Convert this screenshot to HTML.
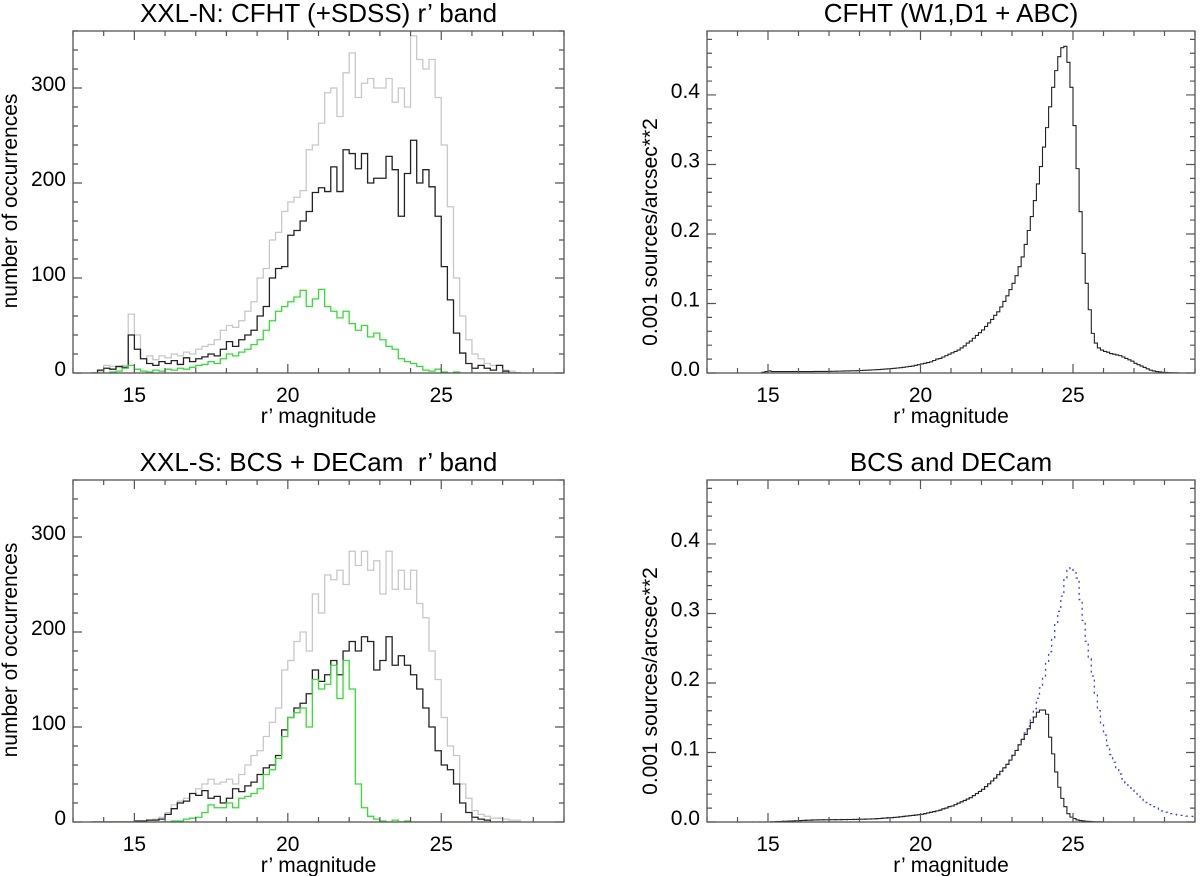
<!DOCTYPE html>
<html><head><meta charset="utf-8">
<style>
html,body{margin:0;padding:0;background:#fff;}
svg{display:block;font-family:"Liberation Sans",Arial,sans-serif;}
text{white-space:pre;}
</style></head>
<body>
<svg id="fig" width="1200" height="876" viewBox="0 0 1200 876" xmlns="http://www.w3.org/2000/svg"></svg>
<script>
// ---- Panel A: XXL-N counts (0.2 mag bins starting at 13.6) ----
const leftBinStart = 13.6;
const leftBinWidth = 0.2;
const xxlnGray = [0,2,8,7,6,8,62,40,15,18,14,18,16,20,18,22,20,25,28,30,35,45,50,48,55,65,75,100,110,140,148,170,180,185,192,235,240,263,295,300,270,316,337,290,305,310,300,300,310,285,300,280,355,330,320,330,290,240,175,100,60,35,20,15,10,8,8,3,2,0];
const xxlnBlack = [0,3,5,4,7,6,40,25,15,10,8,12,10,13,9,16,12,15,17,20,18,25,33,28,35,40,45,60,70,100,110,112,145,150,160,170,190,195,191,217,191,235,231,215,231,200,205,205,228,214,165,210,245,200,214,196,165,112,77,42,21,10,5,8,5,3,8,2,0,0];
const xxlnGreen = [0,0,0,1,2,5,8,4,2,1,3,2,4,3,5,4,6,8,9,12,10,15,20,18,22,25,30,35,45,55,65,70,75,80,87,70,78,88,70,65,58,65,52,45,50,38,42,35,28,25,15,12,10,7,3,2,4,1,0,1,0,0,0,0,0,0,0,0,0,0];
// ---- Panel C: XXL-S counts ----
const xxlsGray = [0,0,0,0,0,0,0,1,1,2,3,5,10,18,22,25,30,35,40,45,40,42,45,40,50,60,70,75,90,105,120,160,170,190,200,180,240,220,260,255,265,250,285,270,285,265,275,240,285,245,265,245,265,230,215,180,150,110,80,70,40,25,12,8,6,4,4,3,2,2];
const xxlsBlack = [0,0,0,0,0,0,0,1,1,2,2,3,8,14,20,22,30,28,33,25,27,20,25,35,32,38,42,50,57,60,70,97,110,120,125,135,160,148,155,170,155,180,190,180,195,190,160,170,195,165,175,165,155,140,120,100,75,60,55,40,20,10,5,3,2,0,0,0,0,0];
const xxlsGreen = [0,0,0,0,0,0,0,0,0,0,0,0,0,1,1,3,4,5,10,18,15,15,20,15,25,27,30,35,50,55,67,90,110,115,120,100,150,140,145,165,130,170,140,40,15,6,3,1,0,2,0,1,0,0,0,0,0,0,0,0,0,0,0,0,0,0,0,0,0,0];
// ---- Panels B/D: densities (0.1 mag bins starting at 14.5) ----
const rightBinStart = 14.5;
const rightBinWidth = 0.1;
const cfhtDensity = [0,0,0,0.001,0.002,
0.003,0.002,0.002,0.002,0.002,0.002,0.002,0.002,0.002,0.002,
0.002,0.002,0.002,0.002,0.002,0.0022,0.0022,0.0022,0.0023,0.0023,
0.0024,0.0025,0.0026,0.0027,0.0028,0.0029,0.003,0.0031,0.0032,0.0034,
0.0036,0.0038,0.004,0.0042,0.0045,0.0048,0.005,0.0053,0.0056,0.006,
0.0064,0.0068,0.0072,0.0077,0.0082,0.0088,0.0094,0.01,0.011,0.012,
0.013,0.014,0.015,0.016,0.018,0.020,0.021,0.023,0.025,0.027,
0.029,0.031,0.033,0.036,0.039,0.043,0.046,0.050,0.054,0.058,
0.062,0.067,0.072,0.077,0.083,0.088,0.095,0.103,0.111,0.120,
0.129,0.140,0.153,0.167,0.185,0.205,0.225,0.248,0.272,0.297,
0.325,0.353,0.383,0.411,0.435,0.455,0.468,0.470,0.447,0.411,
0.356,0.294,0.232,0.172,0.129,0.091,0.057,0.043,0.036,0.033,
0.031,0.030,0.028,0.027,0.026,0.025,0.023,0.021,0.019,0.017,
0.014,0.012,0.010,0.008,0.006,0.004,0.003,0.002,0.0015,0.001,
0.0008,0.0005,0.0003,0.0002,0.0001];
const bcsDensity = [0,0,0,0,0,
0,0.0002,0.0004,0.0006,0.0008,0.001,0.0012,0.0014,0.0016,0.0018,
0.002,0.0022,0.0024,0.0026,0.0028,0.003,0.003,0.0031,0.0032,0.0032,
0.0033,0.0033,0.0034,0.0034,0.0035,0.0035,0.0036,0.0036,0.0037,0.0038,
0.004,0.0041,0.0042,0.0043,0.0045,0.0047,0.005,0.0053,0.0056,0.006,
0.0062,0.0065,0.007,0.0075,0.008,0.0085,0.009,0.0095,0.01,0.0105,
0.011,0.012,0.013,0.014,0.015,0.016,0.017,0.019,0.020,0.022,
0.023,0.025,0.027,0.029,0.031,0.033,0.035,0.038,0.041,0.044,
0.047,0.051,0.055,0.059,0.063,0.068,0.073,0.078,0.083,0.089,
0.096,0.103,0.111,0.119,0.126,0.134,0.143,0.151,0.158,0.161,
0.161,0.155,0.122,0.098,0.072,0.050,0.034,0.022,0.012,0.007,
0.005,0.003,0.002,0.0015,0.001,0.0008,0.0005,0.0003,0.0002,0.0001];
const decamDensity = [0,0,0,0,0,
0,0.0002,0.0004,0.0006,0.0008,0.001,0.0012,0.0014,0.0016,0.0018,
0.002,0.0022,0.0024,0.0026,0.0028,0.003,0.003,0.0031,0.0032,0.0032,
0.0033,0.0033,0.0034,0.0034,0.0035,0.0035,0.0036,0.0036,0.0037,0.0038,
0.004,0.0041,0.0042,0.0043,0.0045,0.0047,0.005,0.0053,0.0056,0.006,
0.0062,0.0065,0.007,0.0075,0.008,0.0085,0.009,0.0095,0.01,0.0105,
0.011,0.012,0.013,0.014,0.015,0.016,0.017,0.019,0.020,0.022,
0.023,0.025,0.027,0.029,0.031,0.033,0.035,0.038,0.041,0.044,
0.047,0.051,0.055,0.059,0.063,0.068,0.073,0.078,0.083,0.089,
0.096,0.103,0.111,0.119,0.128,0.138,0.150,0.163,0.178,0.193,
0.210,0.228,0.245,0.265,0.285,0.303,0.325,0.351,0.362,0.366,
0.362,0.351,0.320,0.290,0.260,0.235,0.210,0.185,0.160,0.141,
0.125,0.110,0.097,0.086,0.077,0.069,0.062,0.056,0.051,0.046,
0.042,0.038,0.034,0.031,0.028,0.025,0.022,0.020,0.018,0.016,
0.014,0.013,0.012,0.011,0.010,0.0095,0.009,0.0085,0.008,0.008];
const xTickLabels = [15,20,25];
const countTickLabels = [0,100,200,300];
const densityTickLabels = ["0.0","0.1","0.2","0.3","0.4"];
const densityTickValues = [0,0.1,0.2,0.3,0.4];

const NS="http://www.w3.org/2000/svg";
const svg=document.getElementById('fig');
function el(tag,attrs,parent){const e=document.createElementNS(NS,tag);for(const k in attrs)e.setAttribute(k,attrs[k]);(parent||svg).appendChild(e);return e;}

function panel(cfg){
  const g=el('g',{});
  
  
  const {x0,x1,y0,y1,xmin,xmax,ymin,ymax}=cfg;
  const X=v=>x0+(v-xmin)/(xmax-xmin)*(x1-x0);
  const Y=v=>y1-(v-ymin)/(ymax-ymin)*(y1-y0);
  const cid='clip-'+cfg.name;
  const cp=el('clipPath',{id:cid},g);
  el('rect',{x:x0,y:y0,width:x1-x0,height:y1-y0},cp);
  cfg.series.forEach(s=>{
    let d='';
    const vals=s.values;
    for(let i=0;i<vals.length;i++){
      const lo=X(s.start+i*s.width), hi=X(s.start+(i+1)*s.width), yy=Y(vals[i]);
      d+=(i===0?'M':'L')+lo.toFixed(2)+','+yy.toFixed(2)+'L'+hi.toFixed(2)+','+yy.toFixed(2);
    }
    const p=el('path',{d:d,fill:'none',stroke:s.color,'stroke-width':s.sw||1.3,'clip-path':'url(#'+cid+')'},g);
    if(s.dash)p.setAttribute('stroke-dasharray',s.dash);
    
    
  });
  const box=el('rect',{x:x0,y:y0,width:x1-x0,height:y1-y0,fill:'none',stroke:'#555','stroke-width':1.3},g);
  
  
  let td='';
  for(let v=Math.ceil(xmin);v<=xmax;v++){
    const len=(v%5===0)?9:5, xx=X(v);
    td+=`M${xx},${y1}v${-len}M${xx},${y0}v${len}`;
  }
  const nMinor=Math.round((ymax-ymin)/cfg.minor);
  for(let k=0;k<=nMinor;k++){
    const v=ymin+k*cfg.minor; if(v>ymax+1e-9)break;
    const isMajor=Math.abs(v/cfg.major-Math.round(v/cfg.major))<1e-6;
    const len=isMajor?9:5, yy=Y(v);
    td+=`M${x0},${yy}h${len}M${x1},${yy}h${-len}`;
  }
  const tk=el('path',{d:td,stroke:'#555','stroke-width':1.2,fill:'none'},g);
  
  
  xTickLabels.forEach(v=>{
    const t=el('text',{x:X(v),y:y1+29,'text-anchor':'middle','font-size':21},g);
    t.textContent=v;
    
    
  });
  cfg.yTickValues.forEach((v,i)=>{
    const t=el('text',{x:x0-7,y:Y(v)+3,'text-anchor':'end','font-size':21},g);
    t.textContent=cfg.yTickLabels[i];
    
    
  });
  const xt=el('text',{x:(x0+x1)/2,y:y1+50,'text-anchor':'middle','font-size':21},g);
  xt.textContent="r\u2019 magnitude";
  
  
  const yc=cfg.ylabY;
  const yt=el('text',{x:cfg.ylabX,y:yc,'text-anchor':'middle','font-size':21,transform:`rotate(-90 ${cfg.ylabX} ${yc})`},g);
  yt.textContent=cfg.ylabel;
  
  
  const tt=el('text',{x:(x0+x1)/2,y:y0-9,'text-anchor':'middle','font-size':26},g);
  tt.textContent=cfg.title;
  
  
}

const L={x0:73,x1:564}, R={x0:707,x1:1195};
const T={y0:31,y1:373}, B={y0:480,y1:822};
panel(Object.assign({name:'xxl-n-panel',title:'XXL-N: CFHT (+SDSS) r\u2019 band',xmin:13,xmax:29,ymin:0,ymax:360,major:100,minor:20,
  yTickValues:countTickLabels,yTickLabels:countTickLabels,ylabel:'number of occurrences',ylabX:17,ylabY:201,
  series:[{name:'xxl-n-gray-histogram',values:xxlnGray,start:leftBinStart,width:leftBinWidth,color:'#c8c8c8'},
          {name:'xxl-n-black-histogram',values:xxlnBlack,start:leftBinStart,width:leftBinWidth,color:'#222'},
          {name:'xxl-n-green-histogram',values:xxlnGreen,start:leftBinStart,width:leftBinWidth,color:'#33dd33'}]},L,T));
panel(Object.assign({name:'cfht-density-panel',title:'CFHT (W1,D1 + ABC)',xmin:13,xmax:29,ymin:0,ymax:0.492,major:0.1,minor:0.02,
  yTickValues:densityTickValues,yTickLabels:densityTickLabels,ylabel:'0.001 sources/arcsec**2',ylabX:657,ylabY:232,
  series:[{name:'cfht-density-histogram',values:cfhtDensity,start:rightBinStart,width:rightBinWidth,color:'#222',sw:1.1}]},R,T));
panel(Object.assign({name:'xxl-s-panel',title:'XXL-S: BCS + DECam  r\u2019 band',xmin:13,xmax:29,ymin:0,ymax:360,major:100,minor:20,
  yTickValues:countTickLabels,yTickLabels:countTickLabels,ylabel:'number of occurrences',ylabX:17,ylabY:650,
  series:[{name:'xxl-s-gray-histogram',values:xxlsGray,start:leftBinStart,width:leftBinWidth,color:'#c8c8c8'},
          {name:'xxl-s-black-histogram',values:xxlsBlack,start:leftBinStart,width:leftBinWidth,color:'#222'},
          {name:'xxl-s-green-histogram',values:xxlsGreen,start:leftBinStart,width:leftBinWidth,color:'#33dd33'}]},L,B));
panel(Object.assign({name:'bcs-decam-panel',title:'BCS and DECam',xmin:13,xmax:29,ymin:0,ymax:0.492,major:0.1,minor:0.02,
  yTickValues:densityTickValues,yTickLabels:densityTickLabels,ylabel:'0.001 sources/arcsec**2',ylabX:657,ylabY:681,
  series:[{name:'decam-density-dotted',values:decamDensity,start:rightBinStart,width:rightBinWidth,color:'#3344ee',sw:1.3,dash:'2,4'},
          {name:'bcs-density-histogram',values:bcsDensity,start:rightBinStart,width:rightBinWidth,color:'#222',sw:1.1}]},R,B));
</script>
</body></html>
